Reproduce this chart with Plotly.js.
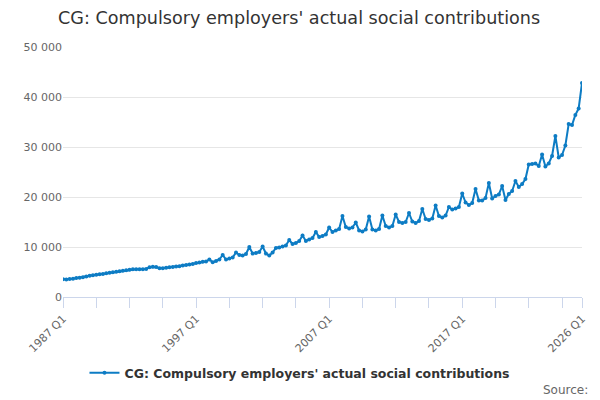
<!DOCTYPE html>
<html>
<head>
<meta charset="utf-8">
<script src="https://cdn.plot.ly/plotly-3.0.1.min.js"></script>
<style>
  body { margin: 0; background: #fff; }
  #chart { width: 600px; height: 400px; }
</style>
</head>
<body>
<div id="chart"></div>
<script>
// quarterly series, 1987 Q1 .. 2026 Q1 (GBP million)
var firstYear = 1987;
var lastYear = 2026;
var seriesName = "CG: Compulsory employers' actual social contributions";

var values = [
	3550, 3500, 3600, 3650,
	3800, 3850, 3950, 4100,
	4250, 4350, 4450, 4550,
	4600, 4750, 4850, 4950,
	5050, 5150, 5250, 5350,
	5450, 5550, 5550, 5550,
	5550, 5600, 5950, 6050,
	6000, 5750, 5750, 5850,
	5950, 6000, 6100, 6150,
	6300, 6400, 6500, 6600,
	6800, 6900, 7050, 7100,
	7500, 6950, 7200, 7500,
	8400, 7500, 7700, 7900,
	8900, 8400, 8300, 8600,
	10000, 8700, 8800, 9000,
	10100, 8700, 8300, 8900,
	9800, 9900, 10100, 10300,
	11400, 10600, 10800, 11200,
	12300, 11200, 11500, 11800,
	13000, 12000, 12200, 12500,
	13900, 13000, 13300, 13600,
	16200, 14000, 13700, 13900,
	14900, 13300, 13100, 13500,
	16100, 13500, 13300, 13600,
	16300, 14200, 13900, 14200,
	16500, 15000, 14800, 15000,
	16800, 15100, 14800, 15200,
	17600, 15600, 15400, 15700,
	18300, 16200, 15900, 16300,
	18000, 17500, 17700, 18000,
	20700, 18900, 18400, 18800,
	21600, 19300, 19300, 19800,
	22800, 19700, 20200, 20500,
	22200, 19400, 20600, 21200,
	23200, 22000, 22600, 23600,
	26500, 26600, 26700, 26200,
	28500, 26100, 26700, 28200,
	32200, 27900, 28400, 30300,
	34600, 34400, 36400, 37700,
	42800
];

var quarters = [];
for (var yr = firstYear; yr <= lastYear; yr++) {
	for (var q = 1; q <= 4; q++) {
		if (yr == lastYear && q > 1) break;
		quarters.push(yr + " Q" + q);
	}
}

// a tick every 10 quarters, a label every 10 years and on the last quarter
var tickVals = [];
var tickText = [];
for (var i = 0; i < quarters.length; i += 10) {
	tickVals.push(quarters[i]);
	tickText.push(i % 40 == 0 ? quarters[i] : "");
}
tickVals.push(quarters[quarters.length - 1]);
tickText.push(quarters[quarters.length - 1]);

var lineColor = "#0d7cc4";

var trace = {
	x: quarters,
	y: values,
	type: "scatter",
	mode: "lines+markers",
	name: seriesName,
	line: {color: lineColor, width: 2},
	marker: {color: lineColor, size: 4}
};

var layout = {
	width: 600,
	height: 400,
	font: {family: "DejaVu Sans, Verdana, sans-serif", color: "#666666"},
	separators: ". ",
	paper_bgcolor: "#ffffff",
	plot_bgcolor: "#ffffff",
	margin: {l: 63, r: 18, t: 47, b: 103},
	title: {
		text: seriesName,
		font: {size: 17.6, color: "#333333"},
		x: 58 / 600, xref: "container", xanchor: "left",
		y: 1 - 18 / 400, yref: "container", yanchor: "middle"
	},
	xaxis: {
		type: "category",
		range: [0, quarters.length - 1],
		tickmode: "array",
		tickvals: tickVals,
		ticktext: tickText,
		tickangle: -45,
		ticks: "outside",
		ticklen: 10,
		tickcolor: "#ccd6eb",
		showline: true,
		linecolor: "#ccd6eb",
		linewidth: 1,
		showgrid: false,
		tickfont: {size: 11, color: "#666666"}
	},
	yaxis: {
		range: [0, 50000],
		dtick: 10000,
		tickformat: ",d",
		gridcolor: "#e6e6e6",
		zeroline: false,
		ticks: "",
		tickfont: {size: 11, color: "#666666"}
	},
	showlegend: true,
	legend: {
		orientation: "h",
		x: 0.4566, xanchor: "center",
		y: -0.304, yanchor: "middle",
		font: {size: 12.5, color: "#333333", weight: "bold"},
		itemwidth: 30
	},
	annotations: [{
		text: "Source:",
		xref: "paper", yref: "paper",
		x: 1.015, xanchor: "right",
		y: -0.372, yanchor: "middle",
		showarrow: false,
		font: {size: 12, color: "#666666"}
	}]
};

Plotly.newPlot("chart", [trace], layout, {displayModeBar: false, staticPlot: true});
</script>
</body>
</html>
